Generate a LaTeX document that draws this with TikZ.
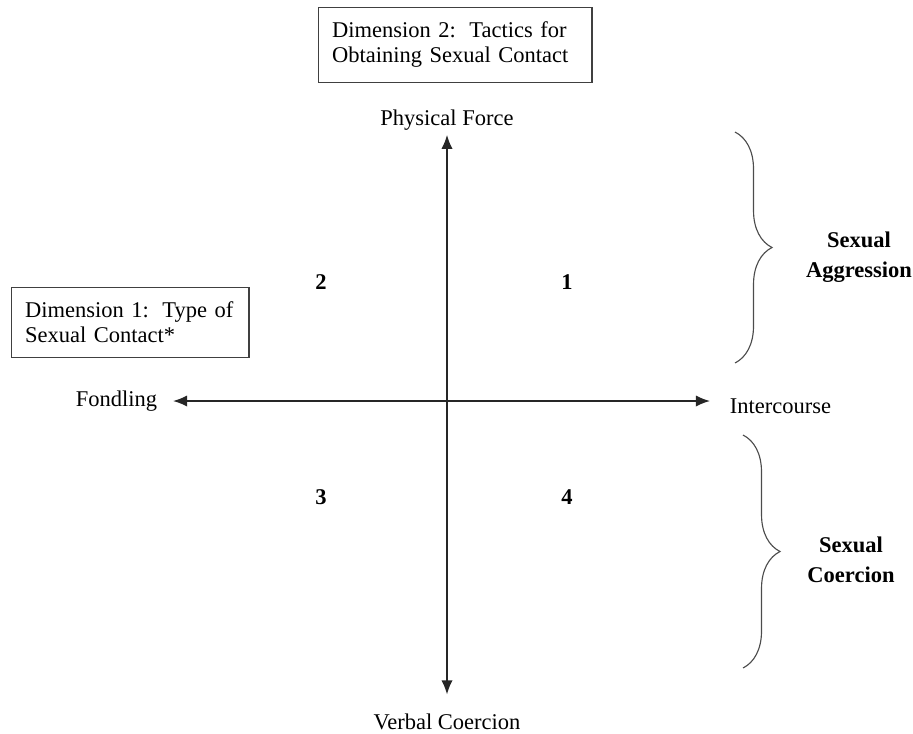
\documentclass[tikz,border=0pt]{standalone}
\usepackage{fontspec}
\setmainfont{Liberation Serif}
\usetikzlibrary{arrows.meta,decorations.pathreplacing}
\begin{document}
\begin{tikzpicture}
    [x=0.025cm,y=-0.025cm,
     font=\fontsize{16}{17.8}\selectfont,
     dimbox/.style={draw=black!75,line width=0.9pt,anchor=north west,align=left,
       inner xsep=0.34cm,inner ysep=0.36cm},
     axis/.style={{Latex[length=10pt,width=8pt]}-{Latex[length=10pt,width=8pt]},
       line width=1.1pt,black!85},
     grp/.style={decorate,decoration={brace,amplitude=0.925cm},line width=0.8pt,black!70},
     quad/.style={font=\fontsize{16}{18}\bfseries},
     side/.style={font=\fontsize{16}{21.5}\bfseries,align=center}]
    \useasboundingbox (0,0) rectangle (913,733);
    \node [dimbox,text width=6.15cm] (dim2) at (318,7)
      {Dimension 2:\hspace{0.6em}Tactics for\\Obtaining Sexual Contact};
    \node [dimbox,text width=5.25cm] (dim1) at (11,287)
      {Dimension 1:\hspace{0.6em}Type of\\Sexual Contact*};
    \node [anchor=base] (phys) at (447,125) {Physical Force};
    \node [anchor=base] (verb) at (447,729) {Verbal Coercion};
    \node [anchor=east] (fond) at (162,401) {Fondling};
    \node [anchor=base west] (inter) at (725,413) {Intercourse};
    \draw [axis,shorten >=0.35cm] (phys.south) -- (verb.north);
    \draw [axis,shorten <=0.275cm,shorten >=0.375cm] (fond.east) -- (fond.east -| inter.west);
    \node [quad] (q1) at (567,282) {1};
    \node [quad] (q2) at (321,282) {2};
    \node [quad] (q3) at (321,497) {3};
    \node [quad] (q4) at (567,497) {4};
    \draw [grp] (735,132) -- (735,363);
    \draw [grp] (743,435) -- (743,668);
    \node [side] (aggr) at (859,257) {Sexual\\Aggression};
    \node [side] (coer) at (851,560) {Sexual\\Coercion};
  \end{tikzpicture}
\end{document}
